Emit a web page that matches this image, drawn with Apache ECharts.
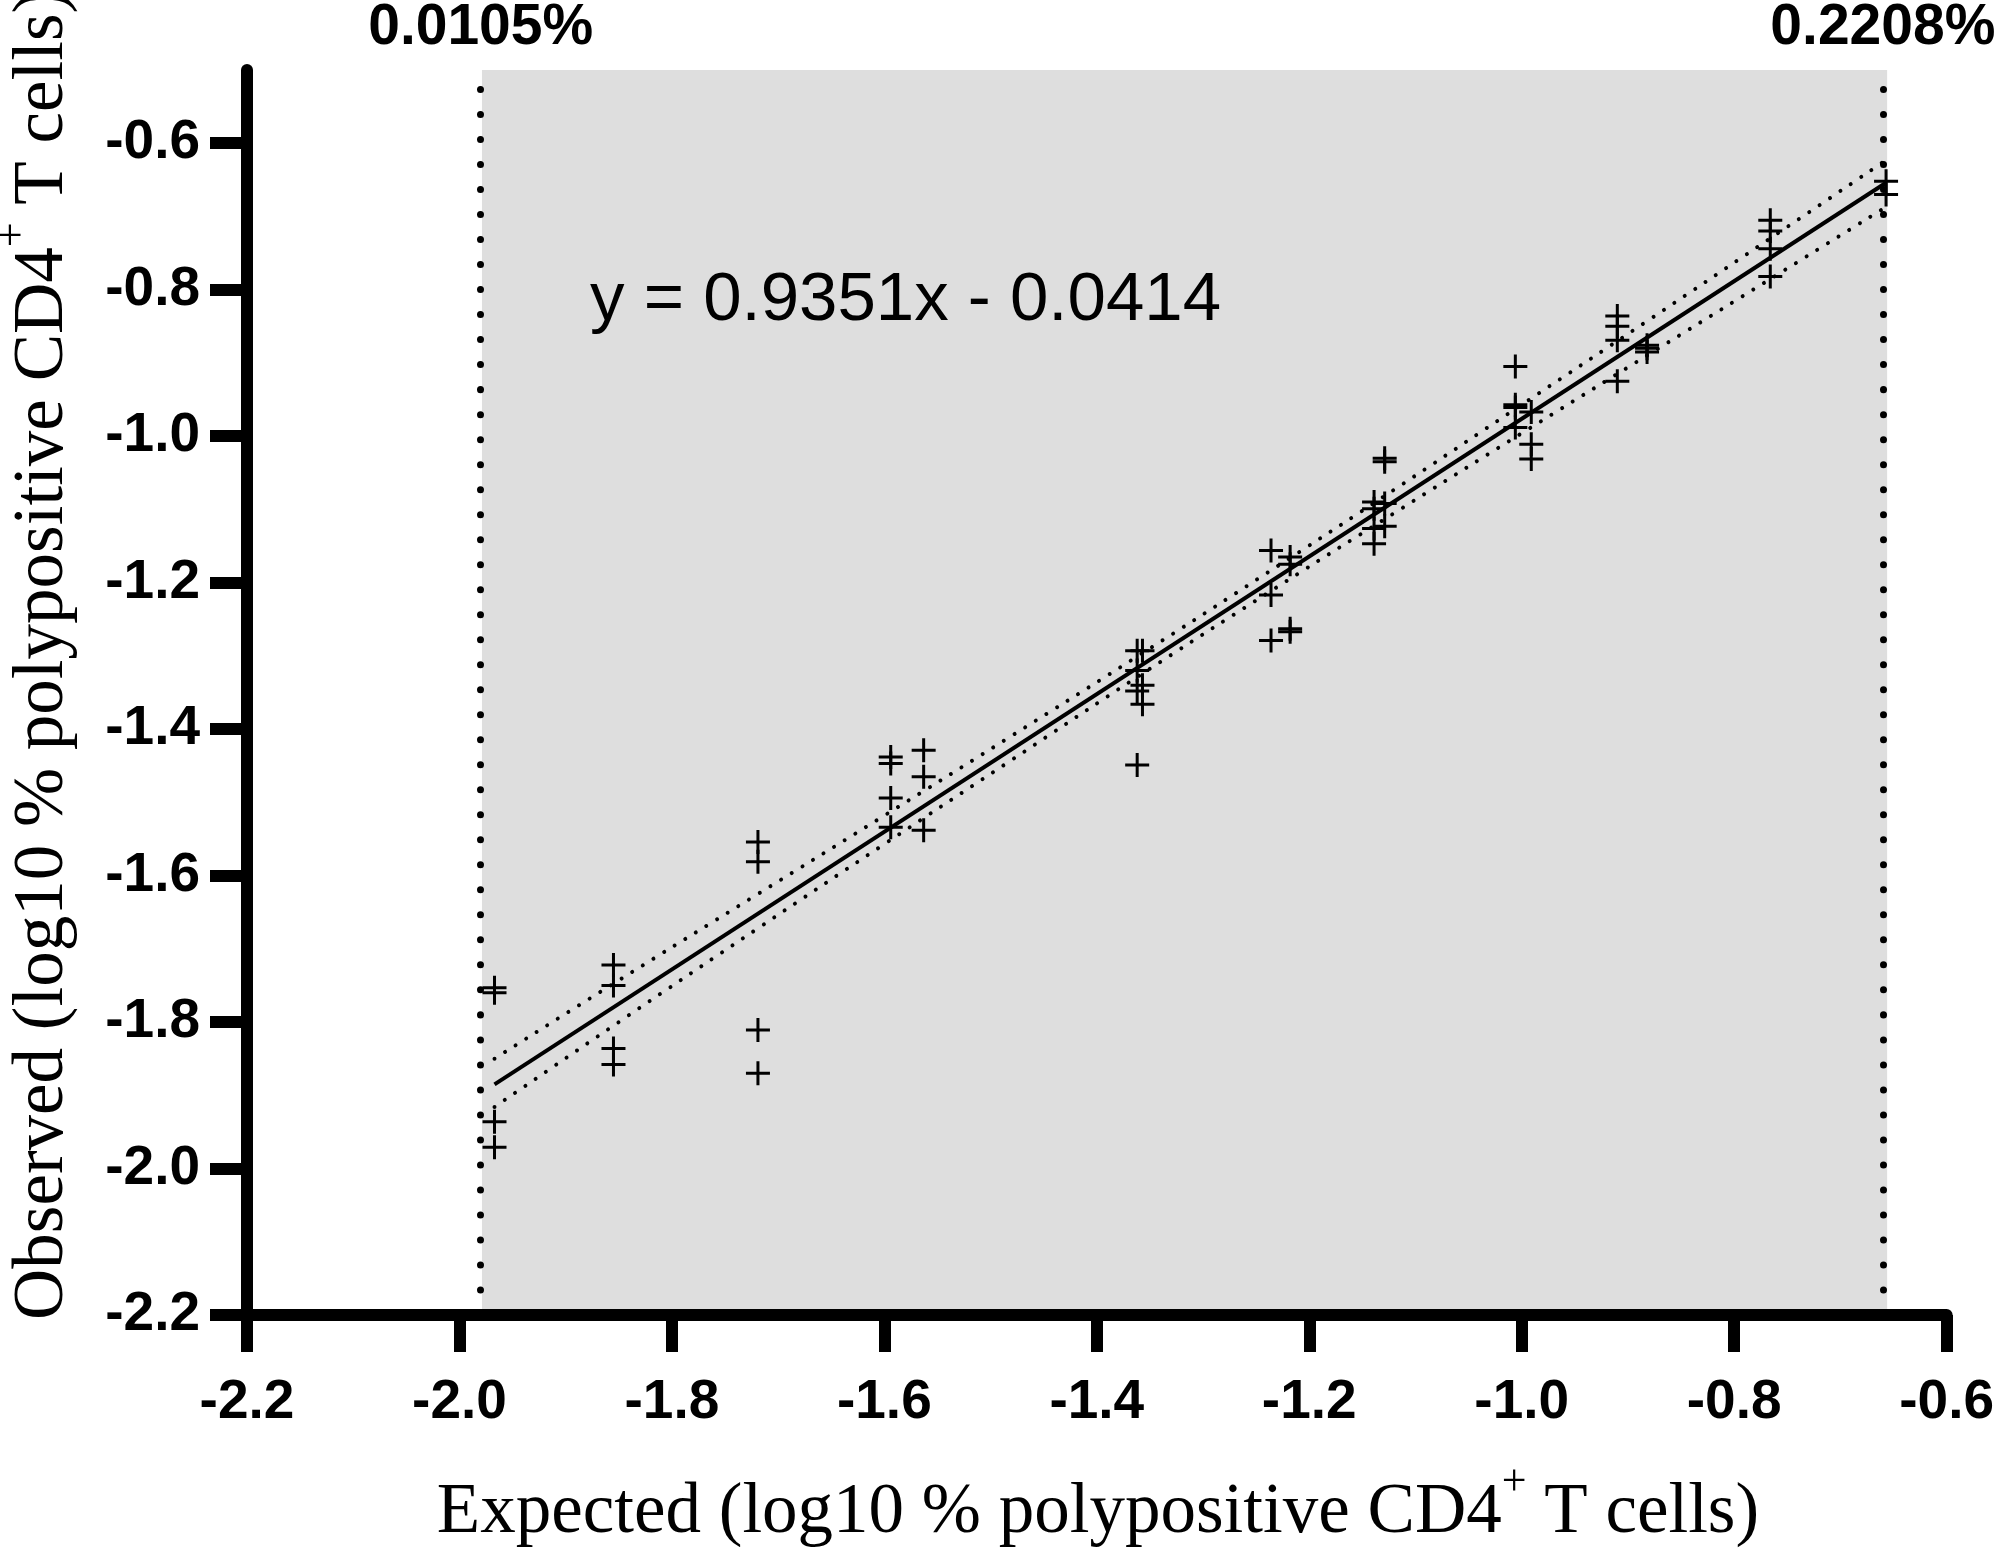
<!DOCTYPE html>
<html>
<head>
<meta charset="utf-8">
<script src="https://cdn.jsdelivr.net/npm/echarts@6/dist/echarts.min.js"></script>
<style>
  html, body { margin: 0; background: #fff; }
  #chart { width: 1997px; height: 1550px; }
</style>
</head>
<body>
<div id="chart"></div>
<script>
// expected level of each group, and the observed replicates at that level
let groupX = [-1.967, -1.855, -1.719, -1.594, -1.563, -1.362, -1.357, -1.236, -1.218,
  -1.139, -1.129, -1.006, -0.991, -0.910, -0.882, -0.766, -0.657]
let groupY = [
  [-1.753, -1.760, -1.936, -1.971],
  [-1.722, -1.750, -1.836, -1.858],
  [-1.554, -1.581, -1.811, -1.870],
  [-1.438, -1.447, -1.494, -1.534],
  [-1.429, -1.465, -1.538],
  [-1.293, -1.320, -1.348, -1.449],
  [-1.293, -1.340, -1.366],
  [-1.156, -1.217, -1.279],
  [-1.165, -1.175, -1.263, -1.267],
  [-1.090, -1.099, -1.126, -1.147],
  [-1.030, -1.035, -1.092, -1.123],
  [-0.905, -0.957, -0.961, -0.988],
  [-0.967, -1.011, -1.031],
  [-0.836, -0.850, -0.869, -0.925],
  [-0.876, -0.880, -0.885],
  [-0.705, -0.720, -0.744, -0.782],
  [-0.652, -0.670]
]

// fitted line ends and the dotted confidence band
let fitX = [-1.967, -0.657]
let fitY = [-1.885, -0.654]
let bandX = [-1.967, -1.85, -1.72, -1.6, -1.48, -1.36, -1.24, -1.12, -1.0, -0.88, -0.76, -0.657]
let bandUpper = [-1.850, -1.743, -1.626, -1.518, -1.409, -1.299, -1.187, -1.073, -0.957, -0.841, -0.724, -0.623]
let bandLower = [-1.916, -1.800, -1.673, -1.557, -1.442, -1.327, -1.215, -1.105, -0.996, -0.888, -0.780, -0.687]

// detection range (log10 of 0.0105% and 0.2208%)
let cutoffX = [-1.9788, -0.656]
let cutoffLabels = ['0.0105%', '0.2208%']

let xTicks = [-2.2, -2.0, -1.8, -1.6, -1.4, -1.2, -1.0, -0.8, -0.6]
let yTicks = [-2.2, -2.0, -1.8, -1.6, -1.4, -1.2, -1.0, -0.8, -0.6]

let equation = 'y = 0.9351x - 0.0414'
let xTitle = ['Expected (log10 % polypositive CD4', '+', ' T cells)']
let yTitle = ['Observed (log10 % polypositive CD4', '+', ' T cells)']

var myChart = echarts.init(document.getElementById('chart'))

const sansBold = { fontFamily: 'Liberation Sans, Arial, sans-serif', fontWeight: 'bold', color: '#000' }
const plus = 'path://M-1.5,-12H1.5V-1.5H12V1.5H1.5V12H-1.5V1.5H-12V-1.5H-1.5Z'

function toPoints() {
  let pts = []
  groupX.forEach((x, i) => {
    groupY[i].forEach(y => pts.push([x, y]))
  })
  return pts
}

function zip(xs, ys) {
  return xs.map((x, i) => [x, ys[i]])
}

function titleRich(parts) {
  return {
    text: '{m|' + parts[0] + '}{s|' + parts[1] + '}{m|' + parts[2] + '}',
    rich: {
      m: { fontFamily: 'Liberation Serif, Times New Roman, serif', fontSize: 71, fill: '#000' },
      s: { fontFamily: 'Liberation Serif, Times New Roman, serif', fontSize: 44, fill: '#000', padding: [0, 0, 60, 0] }
    }
  }
}

function axisCommon(ticks) {
  return {
    type: 'value',
    min: -2.2,
    interval: 0.2,
    z: 10,
    axisLine: { lineStyle: { color: '#000', width: 12 } },
    axisTick: { length: 37, lineStyle: { color: '#000', width: 12 }, customValues: ticks },
    splitLine: { show: false },
    axisLabel: Object.assign({ fontSize: 55, customValues: ticks, formatter: v => v.toFixed(1) }, sansBold)
  }
}

let xAxis = axisCommon(xTicks)
xAxis.max = -0.6
xAxis.axisLabel.margin = 60
let yAxis = axisCommon(yTicks)
yAxis.max = -0.5
yAxis.axisLabel.margin = 47

let option = {
  animation: false,
  backgroundColor: '#fff',
  grid: { left: 247, right: 48, top: 70, bottom: 235 },
  xAxis: xAxis,
  yAxis: yAxis,
  series: [
    {
      // shaded detection range with its dotted edges
      type: 'line',
      data: [],
      z: 1,
      markArea: {
        silent: true,
        itemStyle: { color: '#dedede' },
        data: [[{ xAxis: cutoffX[0], yAxis: -2.2 }, { xAxis: cutoffX[1], yAxis: -0.5 }]]
      },
      markLine: {
        silent: true,
        symbol: 'none',
        lineStyle: { color: '#000', width: 7, type: [0.01, 25], cap: 'round' },
        label: Object.assign({ position: 'end', distance: 13, fontSize: 57 }, sansBold),
        data: cutoffX.map((x, i) => ({ xAxis: x, label: { formatter: cutoffLabels[i] } }))
      }
    },
    {
      type: 'line',
      data: zip(bandX, bandUpper),
      smooth: true,
      showSymbol: false,
      z: 2,
      lineStyle: { color: '#000', width: 4, type: [0.01, 12.5], cap: 'round' }
    },
    {
      type: 'line',
      data: zip(bandX, bandLower),
      smooth: true,
      showSymbol: false,
      z: 2,
      lineStyle: { color: '#000', width: 4, type: [0.01, 12.5], cap: 'round' }
    },
    {
      type: 'line',
      data: zip(fitX, fitY),
      showSymbol: false,
      z: 3,
      lineStyle: { color: '#000', width: 4 }
    },
    {
      type: 'scatter',
      data: toPoints(),
      symbol: plus,
      symbolSize: 24,
      z: 4,
      itemStyle: { color: '#000', opacity: 1 }
    }
  ],
  graphic: [
    {
      type: 'text',
      x: 590,
      y: 301,
      z: 20,
      style: {
        text: equation,
        fontFamily: 'Liberation Sans, Arial, sans-serif',
        fontSize: 69,
        fill: '#000',
        align: 'left',
        verticalAlign: 'middle'
      }
    },
    {
      type: 'text',
      x: 1098,
      y: 1513,
      z: 20,
      style: Object.assign({ align: 'center', verticalAlign: 'middle' }, titleRich(xTitle))
    },
    {
      type: 'text',
      x: 43,
      y: 1320,
      rotation: Math.PI / 2,
      z: 20,
      style: Object.assign({ align: 'left', verticalAlign: 'middle' }, titleRich(yTitle))
    }
  ]
}

myChart.setOption(option)
</script>
</body>
</html>
